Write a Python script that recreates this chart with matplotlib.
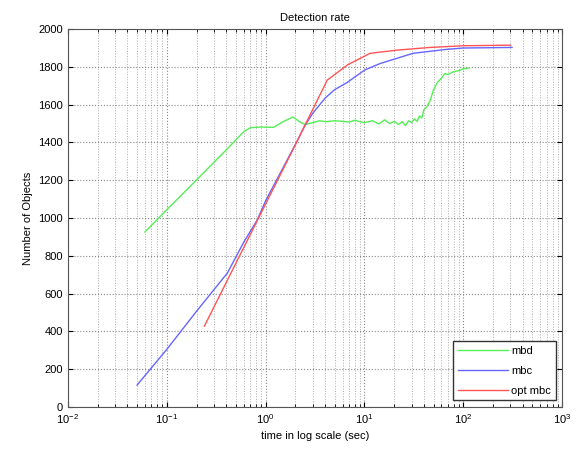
import numpy as np
import matplotlib
matplotlib.use('Agg')
import matplotlib.pyplot as plt
from matplotlib.ticker import LogLocator, FixedLocator

plt.rcParams['font.family'] = ['Liberation Sans', 'DejaVu Sans']
plt.rcParams['font.size'] = 8

# mbd
t_mbd = [0.06, 0.1, 0.2, 0.4, 0.6, 0.7, 0.9, 1.2, 1.5, 1.9, 2.2, 2.5, 3, 3.5, 4, 5, 6, 7, 8, 9,
         10, 12, 14, 16, 18, 20, 22, 24, 26, 28, 30, 32, 34, 36, 38, 40, 43, 46, 50, 55, 60, 65,
         70, 80, 90, 100, 115]
n_mbd = [926, 1044, 1202, 1361, 1457, 1478, 1482, 1480, 1510, 1535, 1510, 1495, 1505, 1515, 1510,
         1515, 1512, 1508, 1518, 1510, 1505, 1515, 1498, 1520, 1500, 1512, 1495, 1510, 1490, 1515,
         1505, 1525, 1512, 1540, 1530, 1575, 1590, 1620, 1680, 1720, 1740, 1765, 1760, 1775, 1780,
         1790, 1795]

# mbc
t_mbc = [0.05, 0.1, 0.2, 0.41, 0.6, 0.82, 1, 1.5, 2, 2.5, 3, 4, 5, 6.7, 10, 14.4, 31, 68, 100, 311]
n_mbc = [116, 305, 507, 709, 872, 989, 1092, 1266, 1390, 1490, 1555, 1635, 1680, 1718, 1783,
         1818, 1872, 1893, 1900, 1903]

# opt mbc
t_opt = [0.24, 0.5, 1, 2, 2.5, 4.2, 6.7, 11.4, 21.5, 46, 100, 300]
n_opt = [428, 761, 1075, 1388, 1492, 1730, 1810, 1872, 1889, 1903, 1912, 1915]

fig = plt.figure(figsize=(5.76, 4.55), dpi=100)
ax = fig.add_axes([0.118, 0.1055, 0.858, 0.8305])

ax.plot(t_mbd, n_mbd, color='#55ee55', lw=1, label='mbd')
ax.plot(t_mbc, n_mbc, color='#6666ff', lw=1, label='mbc')
ax.plot(t_opt, n_opt, color='#ff5555', lw=1, label='opt mbc')

ax.set_xscale('log')
ax.set_xlim(1e-2, 1e3)
ax.set_ylim(0, 2000)
ax.yaxis.set_major_locator(FixedLocator(np.arange(0, 2001, 200)))
ax.xaxis.set_major_locator(LogLocator(base=10, numticks=10))
ax.xaxis.set_minor_locator(LogLocator(base=10, subs=np.arange(2, 10), numticks=20))

ax.grid(True, which='major', ls=':', color='#888888', lw=0.8)
ax.grid(True, which='minor', axis='x', ls=':', color='#aaaaaa', lw=0.7)
ax.tick_params(which='both', direction='in', top=True, right=True, labelsize=8)
for s in ax.spines.values():
    s.set_color('#555555')

ax.set_title('Detection rate', fontsize=8)
ax.set_xlabel('time in log scale (sec)', fontsize=8)
ax.set_ylabel('Number of Objects', fontsize=8)

leg = ax.legend(loc='lower right', fontsize=8, fancybox=False, framealpha=1,
                edgecolor='#333333', handlelength=4.5, labelspacing=0.9,
                handletextpad=0.3, borderaxespad=0.6)

fig.savefig('out.png', dpi=100)
